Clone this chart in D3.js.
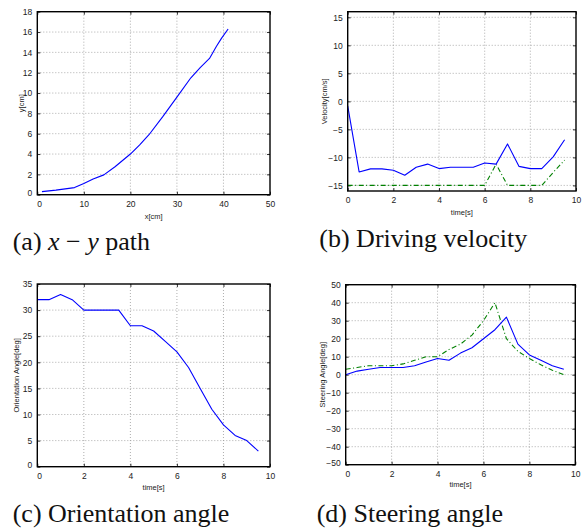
<!DOCTYPE html>
<html>
<head>
<meta charset="utf-8">
<script src="https://cdn.jsdelivr.net/npm/d3@7"></script>
<style>
  body { margin: 0; background: #fff; }
  svg { display: block; }
  .cap { font-family: "Liberation Serif", "DejaVu Serif", serif; font-size: 26px; fill: #111; }
  .tk { font-family: "Liberation Sans", "DejaVu Sans", sans-serif; }
</style>
</head>
<body>
<svg id="chart" width="583" height="528"></svg>
<script>
// ---- Data ----
const pathX = [1, 4, 8, 10, 12, 14.3, 16.7, 20, 22, 24, 27, 30, 33, 35, 37, 38.5, 39.6, 41];
const pathY = [0.3, 0.45, 0.7, 1.1, 1.55, 1.95, 2.75, 4.0, 4.9, 5.9, 7.7, 9.6, 11.5, 12.5, 13.4, 14.6, 15.4, 16.3];

const time = [0, 0.5, 1, 1.5, 2, 2.5, 3, 3.5, 4, 4.5, 5, 5.5, 6, 6.5, 7, 7.5, 8, 8.5, 9, 9.5];

const velActual = [-0.8, -12.6, -12.05, -12.05, -12.3, -13.2, -11.75, -11.2, -12.0, -11.75, -11.75, -11.75, -11.0, -11.2, -7.6, -11.6, -12.0, -12.0, -9.9, -6.85];
const velCommand = [-15, -15, -15, -15, -15, -15, -15, -15, -15, -15, -15, -15, -15, -11.2, -15, -15, -15, -15, -12.7, -10.5];

const orientation = [32, 32, 33, 32, 30, 30, 30, 30, 27, 27, 26, 24, 22, 19, 15, 11, 8, 6, 5, 3];

const steerActual = [0, 2, 3, 4, 4, 4, 5, 7, 9, 8, 12, 15, 20, 25, 32, 17, 11, 8, 5, 3];
const steerCommand = [3, 4, 5, 5, 5, 6, 8, 10, 10, 14, 17, 22, 30, 40, 20, 13, 9, 5.5, 2.5, 0];

const ticksPathX = [0, 10, 20, 30, 40, 50];
const ticksPathY = [0, 2, 4, 6, 8, 10, 12, 14, 16, 18];
const ticksTime = [0, 2, 4, 6, 8, 10];
const ticksVel = [-15, -10, -5, 0, 5, 10, 15];
const ticksOrient = [0, 5, 10, 15, 20, 25, 30, 35];
const ticksSteer = [-50, -40, -30, -20, -10, 0, 10, 20, 30, 40, 50];

const captions = ["(a)", "(b) Driving velocity", "(c) Orientation angle", "(d) Steering angle"];

// ---- Drawing ----
const svg = d3.select("#chart");
const fmt = d3.format("");

function panel(cfg) {
  const x = d3.scaleLinear().domain(cfg.xDomain).range([cfg.left, cfg.right]);
  const y = d3.scaleLinear().domain(cfg.yDomain).range([cfg.bottom, cfg.top]);
  const g = svg.append("g");

  // grid
  g.append("g").selectAll("line").data(cfg.xTicks.filter(t => t > cfg.xDomain[0] && t < cfg.xDomain[1]))
    .join("line")
    .attr("x1", d => x(d)).attr("x2", d => x(d))
    .attr("y1", cfg.top).attr("y2", cfg.bottom)
    .attr("stroke", "#999").attr("stroke-width", 0.8).attr("stroke-dasharray", "1,2");
  g.append("g").selectAll("line").data(cfg.yTicks.filter(t => t > cfg.yDomain[0] && t < cfg.yDomain[1]))
    .join("line")
    .attr("y1", d => y(d)).attr("y2", d => y(d))
    .attr("x1", cfg.left).attr("x2", cfg.right)
    .attr("stroke", "#999").attr("stroke-width", 0.8).attr("stroke-dasharray", "1,2");

  // axes with inner ticks
  const ax = g.append("g").attr("transform", `translate(0,${cfg.bottom})`)
    .call(d3.axisBottom(x).tickValues(cfg.xTicks).tickSizeInner(-3).tickSizeOuter(0).tickPadding(6).tickFormat(fmt));
  const axTop = g.append("g").attr("transform", `translate(0,${cfg.top})`)
    .call(d3.axisTop(x).tickValues(cfg.xTicks).tickSizeInner(-3).tickSizeOuter(0).tickFormat(""));
  const ay = g.append("g").attr("transform", `translate(${cfg.left},0)`)
    .call(d3.axisLeft(y).tickValues(cfg.yTicks).tickSizeInner(-3).tickSizeOuter(0).tickPadding(5).tickFormat(fmt));
  const ayR = g.append("g").attr("transform", `translate(${cfg.right},0)`)
    .call(d3.axisRight(y).tickValues(cfg.yTicks).tickSizeInner(-3).tickSizeOuter(0).tickFormat(""));
  [ax, axTop, ay, ayR].forEach(a => {
    a.attr("font-family", null).attr("font-size", null);
    a.select(".domain").remove();
    a.selectAll("line").attr("stroke", "#000").attr("stroke-width", 0.8);
    a.selectAll("text").attr("class", "tk").style("font-size", "8.5px").attr("fill", "#222");
  });
  if (cfg.cornerShift) {
    ay.selectAll(".tick").filter(d => d === cfg.yDomain[0]).select("text").attr("dy", "0.1em");
    ax.selectAll(".tick").filter(d => d === cfg.xDomain[0]).select("text").attr("dx", "0.2em");
  }

  // lines
  cfg.series.forEach(s => {
    const line = d3.line().x((d, i) => x(s.xs[i])).y(d => y(d));
    g.append("path").datum(s.ys)
      .attr("d", line)
      .attr("fill", "none")
      .attr("stroke", s.color)
      .attr("stroke-width", s.width || 1.1)
      .attr("stroke-dasharray", s.dash || null)
      .attr("stroke-linejoin", "round");
  });

  // frame
  g.append("rect")
    .attr("x", cfg.left).attr("y", cfg.top)
    .attr("width", cfg.right - cfg.left).attr("height", cfg.bottom - cfg.top)
    .attr("fill", "none").attr("stroke", "#000").attr("stroke-width", 1.4);

  // axis labels
  g.append("text").attr("class", "tk").attr("x", (cfg.left + cfg.right) / 2).attr("y", cfg.xLabelY)
    .attr("text-anchor", "middle").style("font-size", "7.5px").attr("fill", "#222")
    .text(cfg.xLabel);
  g.append("text").attr("class", "tk")
    .attr("transform", `translate(${cfg.yLabelX},${(cfg.top + cfg.bottom) / 2}) rotate(-90)`)
    .attr("text-anchor", "middle").attr("dy", "0.35em")
    .style("font-size", "7.5px").attr("fill", "#222")
    .text(cfg.yLabel);
}

panel({
  left: 37.3, right: 270, top: 11.7, bottom: 194.7,
  xDomain: [0, 50], yDomain: [0, 18], xTicks: ticksPathX, yTicks: ticksPathY,
  xLabel: "x[cm]", yLabel: "y[cm]", xLabelY: 219, yLabelX: 21, cornerShift: true,
  series: [{ xs: pathX, ys: pathY, color: "#0000ff" }]
});

panel({
  left: 347.7, right: 576, top: 11.7, bottom: 191,
  xDomain: [0, 10], yDomain: [-16, 16], xTicks: ticksTime, yTicks: ticksVel,
  xLabel: "time[s]", yLabel: "Velocity[cm/s]", xLabelY: 215, yLabelX: 324.3,
  series: [
    { xs: time, ys: velCommand, color: "#008000", dash: "5,2.5,1,2.5" },
    { xs: time, ys: velActual, color: "#0000ff" }
  ]
});

panel({
  left: 37.3, right: 270, top: 284, bottom: 466.7,
  xDomain: [0, 10], yDomain: [0, 35], xTicks: ticksTime, yTicks: ticksOrient,
  xLabel: "time[s]", yLabel: "Orientation Angle[deg]", xLabelY: 490, yLabelX: 16.7, cornerShift: true,
  series: [{ xs: time, ys: orientation, color: "#0000ff" }]
});

panel({
  left: 345.7, right: 575.3, top: 284.7, bottom: 464.7,
  xDomain: [0, 10], yDomain: [-50, 50], xTicks: ticksTime, yTicks: ticksSteer,
  xLabel: "time[s]", yLabel: "Steering Angle[deg]", xLabelY: 487, yLabelX: 322.3, cornerShift: true,
  series: [
    { xs: time, ys: steerCommand, color: "#008000", dash: "5,2.5,1,2.5" },
    { xs: time, ys: steerActual, color: "#0000ff" }
  ]
});

// ---- Captions ----
const capA = svg.append("text").attr("class", "cap").attr("x", 12.7).attr("y", 250.3);
capA.append("tspan").text(captions[0] + " ");
capA.append("tspan").attr("font-style", "italic").text("x");
capA.append("tspan").text(" \u2212 ");
capA.append("tspan").attr("font-style", "italic").text("y");
capA.append("tspan").text(" path");

svg.append("text").attr("class", "cap").attr("x", 319.3).attr("y", 247).text(captions[1]);
svg.append("text").attr("class", "cap").attr("x", 12.7).attr("y", 521.7).text(captions[2]);
svg.append("text").attr("class", "cap").attr("x", 316.7).attr("y", 521.7).text(captions[3]);
</script>
</body>
</html>
